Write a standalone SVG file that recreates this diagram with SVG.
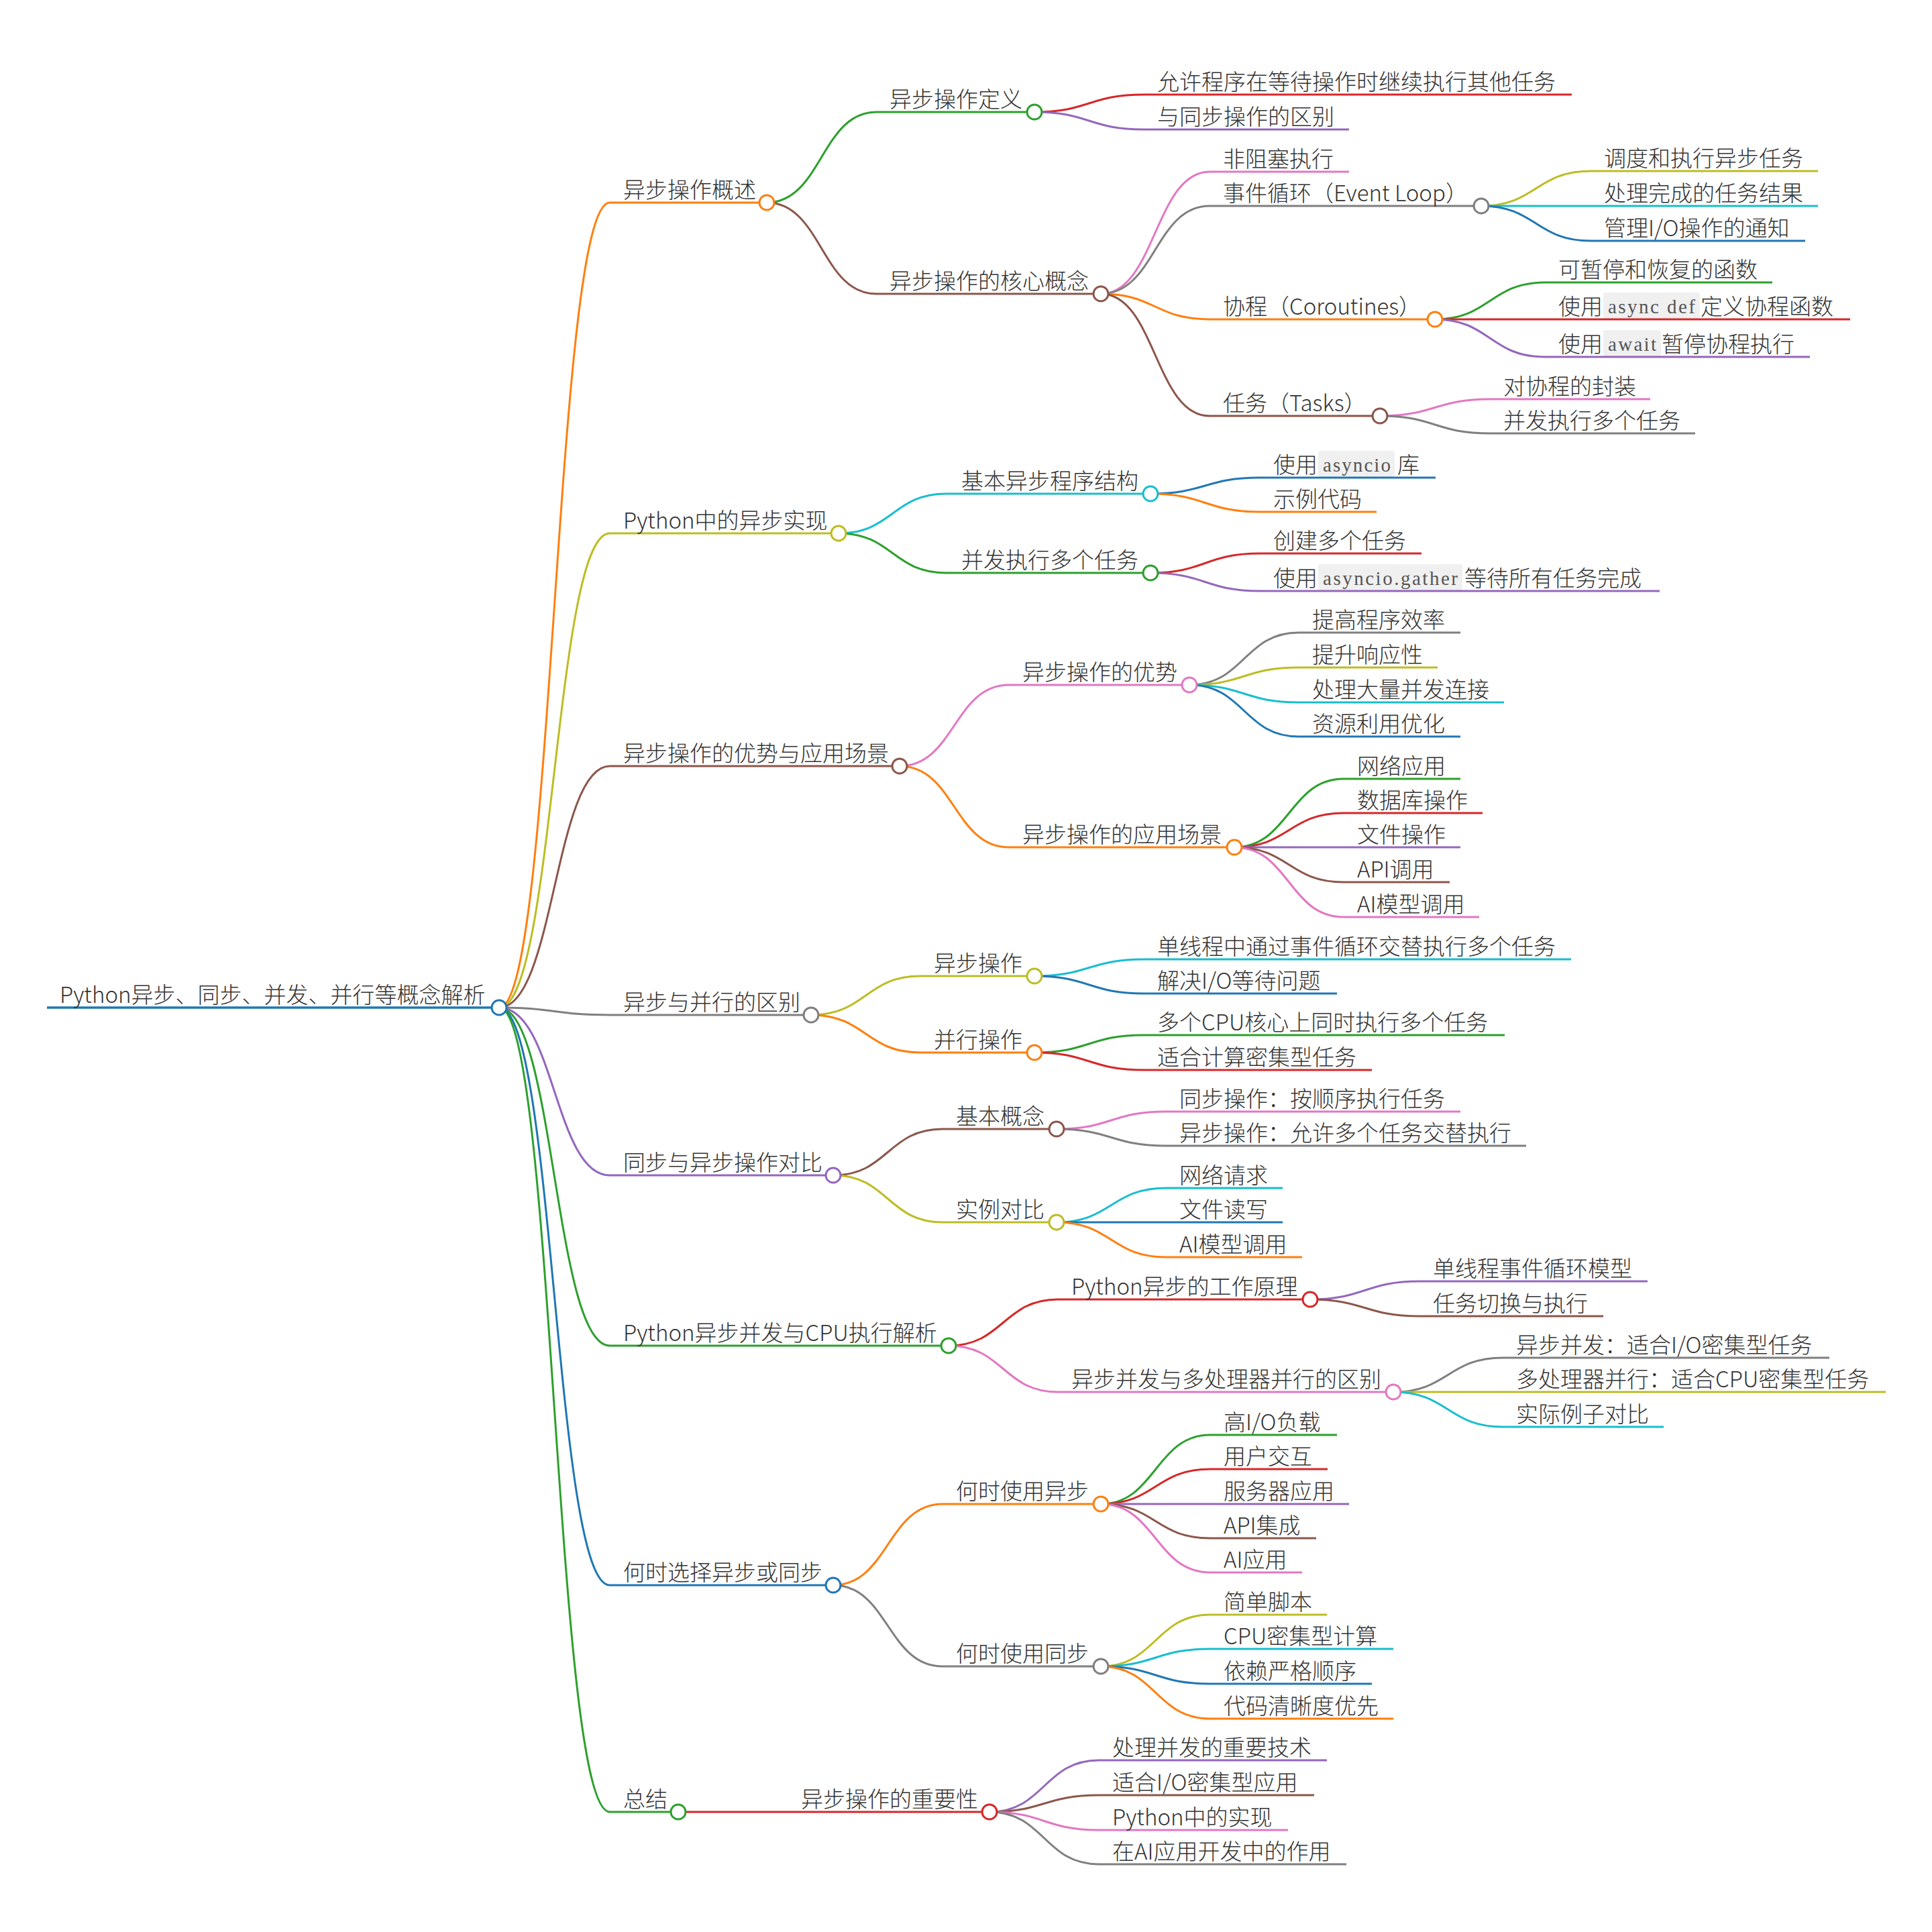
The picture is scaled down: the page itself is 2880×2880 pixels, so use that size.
<svg xmlns="http://www.w3.org/2000/svg" width="2880" height="2880" viewBox="0 0 2880 2880">
<style>
.t{font-family:"Noto Sans CJK SC Light","Noto Sans CJK SC","Noto Sans",sans-serif;font-size:33px;font-weight:300;fill:#333}
.c{font-family:"Liberation Serif","DejaVu Serif",serif;font-size:29px;fill:#555}
.cb{fill:#f0f0f0}
.l{fill:none;stroke-width:3}
.u{fill:none;stroke-width:3}
.ur{fill:none;stroke-width:3.5}
circle{fill:#fff;stroke-width:3}
.bl{stroke:#1f77b4}.or{stroke:#ff7f0e}.gr{stroke:#2ca02c}.rd{stroke:#d62728}.pu{stroke:#9467bd}
.br{stroke:#8c564b}.pk{stroke:#e377c2}.gy{stroke:#7f7f7f}.ol{stroke:#bcbd22}.cy{stroke:#17becf}
</style>
<rect width="2880" height="2880" fill="#fff"/>
<g id="connectors">
<path class="l or" d="M744 1502C826.5 1502 826.5 302 909 302"/>
<path class="l ol" d="M744 1502C826.5 1502 826.5 795 909 795"/>
<path class="l br" d="M744 1502C826.5 1502 826.5 1142 909 1142"/>
<path class="l gy" d="M744 1502C826.5 1502 826.5 1513 909 1513"/>
<path class="l pu" d="M744 1502C826.5 1502 826.5 1752 909 1752"/>
<path class="l gr" d="M744 1502C826.5 1502 826.5 2006 909 2006"/>
<path class="l bl" d="M744 1502C826.5 1502 826.5 2363 909 2363"/>
<path class="l gr" d="M744 1502C826.5 1502 826.5 2701 909 2701"/>

<path class="l gr" d="M1143 302C1224.5 302 1224.5 167 1306 167"/>
<path class="l br" d="M1143 302C1224.5 302 1224.5 438 1306 438"/>
<path class="l rd" d="M1542 167C1623.5 167 1623.5 141 1705 141"/>
<path class="l pu" d="M1542 167C1623.5 167 1623.5 193 1705 193"/>
<path class="l pk" d="M1641 438C1722 438 1722 256 1803 256"/>
<path class="l gy" d="M1641 438C1722 438 1722 307 1803 307"/>
<path class="l or" d="M1641 438C1722 438 1722 476 1803 476"/>
<path class="l br" d="M1641 438C1722 438 1722 620 1803 620"/>
<path class="l ol" d="M2208 307C2289.5 307 2289.5 255 2371 255"/>
<path class="l cy" d="M2208 307C2289.5 307 2289.5 307 2371 307"/>
<path class="l bl" d="M2208 307C2289.5 307 2289.5 359 2371 359"/>
<path class="l gr" d="M2139 476C2221 476 2221 421 2303 421"/>
<path class="l rd" d="M2139 476C2221 476 2221 476 2303 476"/>
<path class="l pu" d="M2139 476C2221 476 2221 532 2303 532"/>
<path class="l pk" d="M2057 620C2139 620 2139 595 2221 595"/>
<path class="l gy" d="M2057 620C2139 620 2139 646 2221 646"/>

<path class="l cy" d="M1250 795C1330.5 795 1330.5 736 1411 736"/>
<path class="l gr" d="M1250 795C1330.5 795 1330.5 854 1411 854"/>
<path class="l bl" d="M1715 736C1796.5 736 1796.5 712 1878 712"/>
<path class="l or" d="M1715 736C1796.5 736 1796.5 763 1878 763"/>
<path class="l rd" d="M1715 854C1796.5 854 1796.5 825 1878 825"/>
<path class="l pu" d="M1715 854C1796.5 854 1796.5 881 1878 881"/>

<path class="l pk" d="M1341 1142C1422.5 1142 1422.5 1021 1504 1021"/>
<path class="l or" d="M1341 1142C1422.5 1142 1422.5 1263 1504 1263"/>
<path class="l gy" d="M1773 1021C1854.5 1021 1854.5 943 1936 943"/>
<path class="l ol" d="M1773 1021C1854.5 1021 1854.5 995 1936 995"/>
<path class="l cy" d="M1773 1021C1854.5 1021 1854.5 1047 1936 1047"/>
<path class="l bl" d="M1773 1021C1854.5 1021 1854.5 1098 1936 1098"/>
<path class="l gr" d="M1840 1263C1921.5 1263 1921.5 1161 2003 1161"/>
<path class="l rd" d="M1840 1263C1921.5 1263 1921.5 1212 2003 1212"/>
<path class="l pu" d="M1840 1263C1921.5 1263 1921.5 1263 2003 1263"/>
<path class="l br" d="M1840 1263C1921.5 1263 1921.5 1315 2003 1315"/>
<path class="l pk" d="M1840 1263C1921.5 1263 1921.5 1367 2003 1367"/>

<path class="l ol" d="M1209 1513C1290.5 1513 1290.5 1455 1372 1455"/>
<path class="l or" d="M1209 1513C1290.5 1513 1290.5 1569 1372 1569"/>
<path class="l cy" d="M1542 1455C1623.5 1455 1623.5 1430 1705 1430"/>
<path class="l bl" d="M1542 1455C1623.5 1455 1623.5 1481 1705 1481"/>
<path class="l gr" d="M1542 1569C1623.5 1569 1623.5 1543 1705 1543"/>
<path class="l rd" d="M1542 1569C1623.5 1569 1623.5 1595 1705 1595"/>

<path class="l br" d="M1242 1752C1323.5 1752 1323.5 1683 1405 1683"/>
<path class="l ol" d="M1242 1752C1323.5 1752 1323.5 1822 1405 1822"/>
<path class="l pk" d="M1575 1683C1656.5 1683 1656.5 1657 1738 1657"/>
<path class="l gy" d="M1575 1683C1656.5 1683 1656.5 1708 1738 1708"/>
<path class="l cy" d="M1575 1822C1656.5 1822 1656.5 1771 1738 1771"/>
<path class="l bl" d="M1575 1822C1656.5 1822 1656.5 1822 1738 1822"/>
<path class="l or" d="M1575 1822C1656.5 1822 1656.5 1874 1738 1874"/>

<path class="l rd" d="M1414 2006C1495.5 2006 1495.5 1937 1577 1937"/>
<path class="l pk" d="M1414 2006C1495.5 2006 1495.5 2075 1577 2075"/>
<path class="l pu" d="M1953 1937C2034.5 1937 2034.5 1910 2116 1910"/>
<path class="l br" d="M1953 1937C2034.5 1937 2034.5 1962 2116 1962"/>
<path class="l gy" d="M2077 2075C2158.5 2075 2158.5 2024 2240 2024"/>
<path class="l ol" d="M2077 2075C2158.5 2075 2158.5 2075 2240 2075"/>
<path class="l cy" d="M2077 2075C2158.5 2075 2158.5 2127 2240 2127"/>

<path class="l or" d="M1242 2363C1323.5 2363 1323.5 2242 1405 2242"/>
<path class="l gy" d="M1242 2363C1323.5 2363 1323.5 2484 1405 2484"/>
<path class="l gr" d="M1641 2242C1722.5 2242 1722.5 2139 1804 2139"/>
<path class="l rd" d="M1641 2242C1722.5 2242 1722.5 2190 1804 2190"/>
<path class="l pu" d="M1641 2242C1722.5 2242 1722.5 2242 1804 2242"/>
<path class="l br" d="M1641 2242C1722.5 2242 1722.5 2293 1804 2293"/>
<path class="l pk" d="M1641 2242C1722.5 2242 1722.5 2344 1804 2344"/>
<path class="l ol" d="M1641 2484C1722.5 2484 1722.5 2407 1804 2407"/>
<path class="l cy" d="M1641 2484C1722.5 2484 1722.5 2458 1804 2458"/>
<path class="l bl" d="M1641 2484C1722.5 2484 1722.5 2510 1804 2510"/>
<path class="l or" d="M1641 2484C1722.5 2484 1722.5 2562 1804 2562"/>

<path class="l rd" d="M1011 2701L1174 2701"/>
<path class="l pu" d="M1475 2701C1556.5 2701 1556.5 2624 1638 2624"/>
<path class="l br" d="M1475 2701C1556.5 2701 1556.5 2676 1638 2676"/>
<path class="l pk" d="M1475 2701C1556.5 2701 1556.5 2728 1638 2728"/>
<path class="l gy" d="M1475 2701C1556.5 2701 1556.5 2779 1638 2779"/>
</g>

<g id="root"><path class="ur bl" d="M70 1502H744"/><text class="t" x="89" y="1495">Python异步、同步、并发、并行等概念解析</text><circle class="bl" cx="744" cy="1502" r="11"/></g>

<g id="n1"><path class="u or" d="M909 302H1143"/><text class="t" x="929" y="295">异步操作概述</text><circle class="or" cx="1143" cy="302" r="11"/></g>
<g id="n1-1"><path class="u gr" d="M1306 167H1542"/><text class="t" x="1326" y="160">异步操作定义</text><circle class="gr" cx="1542" cy="167" r="11"/></g>
<g id="n1-1-1"><path class="u rd" d="M1705 141H2343"/><text class="t" x="1725" y="134">允许程序在等待操作时继续执行其他任务</text></g>
<g id="n1-1-2"><path class="u pu" d="M1705 193H2011"/><text class="t" x="1725" y="186">与同步操作的区别</text></g>
<g id="n1-2"><path class="u br" d="M1306 438H1641"/><text class="t" x="1326" y="431">异步操作的核心概念</text><circle class="br" cx="1641" cy="438" r="11"/></g>
<g id="n1-2-1"><path class="u pk" d="M1803 256H2011"/><text class="t" x="1823" y="249">非阻塞执行</text></g>
<g id="n1-2-2"><path class="u gy" d="M1803 307H2208"/><text class="t" x="1823" y="300">事件循环（Event Loop）</text><circle class="gy" cx="2208" cy="307" r="11"/></g>
<g id="n1-2-2-1"><path class="u ol" d="M2371 255H2710"/><text class="t" x="2391" y="248">调度和执行异步任务</text></g>
<g id="n1-2-2-2"><path class="u cy" d="M2371 307H2710"/><text class="t" x="2391" y="300">处理完成的任务结果</text></g>
<g id="n1-2-2-3"><path class="u bl" d="M2371 359H2691"/><text class="t" x="2391" y="352">管理I/O操作的通知</text></g>
<g id="n1-2-3"><path class="u or" d="M1803 476H2139"/><text class="t" x="1823" y="469">协程（Coroutines）</text><circle class="or" cx="2139" cy="476" r="11"/></g>
<g id="n1-2-3-1"><path class="u gr" d="M2303 421H2642"/><text class="t" x="2323" y="414">可暂停和恢复的函数</text></g>
<g id="n1-2-3-2"><rect class="cb" x="2390" y="436" width="144" height="39" rx="4"/><path class="u rd" d="M2303 476H2758"/><text class="t" x="2323" y="469">使用</text><text class="c" x="2397" y="467" textLength="130" lengthAdjust="spacing">async def</text><text class="t" x="2535" y="469">定义协程函数</text></g>
<g id="n1-2-3-3"><rect class="cb" x="2390" y="492" width="86" height="39" rx="4"/><path class="u pu" d="M2303 532H2698"/><text class="t" x="2323" y="525">使用</text><text class="c" x="2397" y="523" textLength="72" lengthAdjust="spacing">await</text><text class="t" x="2477" y="525">暂停协程执行</text></g>
<g id="n1-2-4"><path class="u br" d="M1803 620H2057"/><text class="t" x="1823" y="613">任务（Tasks）</text><circle class="br" cx="2057" cy="620" r="11"/></g>
<g id="n1-2-4-1"><path class="u pk" d="M2221 595H2460"/><text class="t" x="2241" y="588">对协程的封装</text></g>
<g id="n1-2-4-2"><path class="u gy" d="M2221 646H2527"/><text class="t" x="2241" y="639">并发执行多个任务</text></g>

<g id="n2"><path class="u ol" d="M909 795H1250"/><text class="t" x="929" y="788">Python中的异步实现</text><circle class="ol" cx="1250" cy="795" r="11"/></g>
<g id="n2-1"><path class="u cy" d="M1411 736H1715"/><text class="t" x="1433" y="729">基本异步程序结构</text><circle class="cy" cx="1715" cy="736" r="11"/></g>
<g id="n2-1-1"><rect class="cb" x="1965" y="672" width="114" height="39" rx="4"/><path class="u bl" d="M1878 712H2140"/><text class="t" x="1898" y="705">使用</text><text class="c" x="1972" y="703" textLength="101" lengthAdjust="spacing">asyncio</text><text class="t" x="2083" y="705">库</text></g>
<g id="n2-1-2"><path class="u or" d="M1878 763H2052"/><text class="t" x="1898" y="756">示例代码</text></g>
<g id="n2-2"><path class="u gr" d="M1411 854H1715"/><text class="t" x="1433" y="847">并发执行多个任务</text><circle class="gr" cx="1715" cy="854" r="11"/></g>
<g id="n2-2-1"><path class="u rd" d="M1878 825H2119"/><text class="t" x="1898" y="818">创建多个任务</text></g>
<g id="n2-2-2"><rect class="cb" x="1965" y="841" width="215" height="39" rx="4"/><path class="u pu" d="M1878 881H2474"/><text class="t" x="1898" y="874">使用</text><text class="c" x="1972" y="872" textLength="201" lengthAdjust="spacing">asyncio.gather</text><text class="t" x="2183" y="874">等待所有任务完成</text></g>

<g id="n3"><path class="u br" d="M909 1142H1341"/><text class="t" x="929" y="1135">异步操作的优势与应用场景</text><circle class="br" cx="1341" cy="1142" r="11"/></g>
<g id="n3-1"><path class="u pk" d="M1504 1021H1773"/><text class="t" x="1524" y="1014">异步操作的优势</text><circle class="pk" cx="1773" cy="1021" r="11"/></g>
<g id="n3-1-1"><path class="u gy" d="M1936 943H2177"/><text class="t" x="1956" y="936">提高程序效率</text></g>
<g id="n3-1-2"><path class="u ol" d="M1936 995H2143"/><text class="t" x="1956" y="988">提升响应性</text></g>
<g id="n3-1-3"><path class="u cy" d="M1936 1047H2242"/><text class="t" x="1956" y="1040">处理大量并发连接</text></g>
<g id="n3-1-4"><path class="u bl" d="M1936 1098H2177"/><text class="t" x="1956" y="1091">资源利用优化</text></g>
<g id="n3-2"><path class="u or" d="M1504 1263H1840"/><text class="t" x="1524" y="1256">异步操作的应用场景</text><circle class="or" cx="1840" cy="1263" r="11"/></g>
<g id="n3-2-1"><path class="u gr" d="M2003 1161H2177"/><text class="t" x="2023" y="1154">网络应用</text></g>
<g id="n3-2-2"><path class="u rd" d="M2003 1212H2210"/><text class="t" x="2023" y="1205">数据库操作</text></g>
<g id="n3-2-3"><path class="u pu" d="M2003 1263H2177"/><text class="t" x="2023" y="1256">文件操作</text></g>
<g id="n3-2-4"><path class="u br" d="M2003 1315H2161"/><text class="t" x="2023" y="1308">API调用</text></g>
<g id="n3-2-5"><path class="u pk" d="M2003 1367H2205"/><text class="t" x="2023" y="1360">AI模型调用</text></g>

<g id="n4"><path class="u gy" d="M909 1513H1209"/><text class="t" x="929" y="1506">异步与并行的区别</text><circle class="gy" cx="1209" cy="1513" r="11"/></g>
<g id="n4-1"><path class="u ol" d="M1372 1455H1542"/><text class="t" x="1392" y="1448">异步操作</text><circle class="ol" cx="1542" cy="1455" r="11"/></g>
<g id="n4-1-1"><path class="u cy" d="M1705 1430H2342"/><text class="t" x="1725" y="1423">单线程中通过事件循环交替执行多个任务</text></g>
<g id="n4-1-2"><path class="u bl" d="M1705 1481H1993"/><text class="t" x="1725" y="1474">解决I/O等待问题</text></g>
<g id="n4-2"><path class="u or" d="M1372 1569H1542"/><text class="t" x="1392" y="1562">并行操作</text><circle class="or" cx="1542" cy="1569" r="11"/></g>
<g id="n4-2-1"><path class="u gr" d="M1705 1543H2243"/><text class="t" x="1725" y="1536">多个CPU核心上同时执行多个任务</text></g>
<g id="n4-2-2"><path class="u rd" d="M1705 1595H2045"/><text class="t" x="1725" y="1588">适合计算密集型任务</text></g>

<g id="n5"><path class="u pu" d="M909 1752H1242"/><text class="t" x="929" y="1745">同步与异步操作对比</text><circle class="pu" cx="1242" cy="1752" r="11"/></g>
<g id="n5-1"><path class="u br" d="M1405 1683H1575"/><text class="t" x="1425" y="1676">基本概念</text><circle class="br" cx="1575" cy="1683" r="11"/></g>
<g id="n5-1-1"><path class="u pk" d="M1738 1657H2177"/><text class="t" x="1758" y="1650">同步操作：按顺序执行任务</text></g>
<g id="n5-1-2"><path class="u gy" d="M1738 1708H2275"/><text class="t" x="1758" y="1701">异步操作：允许多个任务交替执行</text></g>
<g id="n5-2"><path class="u ol" d="M1405 1822H1575"/><text class="t" x="1425" y="1815">实例对比</text><circle class="ol" cx="1575" cy="1822" r="11"/></g>
<g id="n5-2-1"><path class="u cy" d="M1738 1771H1912"/><text class="t" x="1758" y="1764">网络请求</text></g>
<g id="n5-2-2"><path class="u bl" d="M1738 1822H1912"/><text class="t" x="1758" y="1815">文件读写</text></g>
<g id="n5-2-3"><path class="u or" d="M1738 1874H1941"/><text class="t" x="1758" y="1867">AI模型调用</text></g>

<g id="n6"><path class="u gr" d="M909 2006H1414"/><text class="t" x="929" y="1999">Python异步并发与CPU执行解析</text><circle class="gr" cx="1414" cy="2006" r="11"/></g>
<g id="n6-1"><path class="u rd" d="M1577 1937H1953"/><text class="t" x="1597" y="1930">Python异步的工作原理</text><circle class="rd" cx="1953" cy="1937" r="11"/></g>
<g id="n6-1-1"><path class="u pu" d="M2116 1910H2456"/><text class="t" x="2136" y="1903">单线程事件循环模型</text></g>
<g id="n6-1-2"><path class="u br" d="M2116 1962H2390"/><text class="t" x="2136" y="1955">任务切换与执行</text></g>
<g id="n6-2"><path class="u pk" d="M1577 2075H2077"/><text class="t" x="1597" y="2068">异步并发与多处理器并行的区别</text><circle class="pk" cx="2077" cy="2075" r="11"/></g>
<g id="n6-2-1"><path class="u gy" d="M2240 2024H2727"/><text class="t" x="2260" y="2017">异步并发：适合I/O密集型任务</text></g>
<g id="n6-2-2"><path class="u ol" d="M2240 2075H2811"/><text class="t" x="2260" y="2068">多处理器并行：适合CPU密集型任务</text></g>
<g id="n6-2-3"><path class="u cy" d="M2240 2127H2480"/><text class="t" x="2260" y="2120">实际例子对比</text></g>

<g id="n7"><path class="u bl" d="M909 2363H1242"/><text class="t" x="929" y="2356">何时选择异步或同步</text><circle class="bl" cx="1242" cy="2363" r="11"/></g>
<g id="n7-1"><path class="u or" d="M1405 2242H1641"/><text class="t" x="1425" y="2235">何时使用异步</text><circle class="or" cx="1641" cy="2242" r="11"/></g>
<g id="n7-1-1"><path class="u gr" d="M1804 2139H1993"/><text class="t" x="1824" y="2132">高I/O负载</text></g>
<g id="n7-1-2"><path class="u rd" d="M1804 2190H1979"/><text class="t" x="1824" y="2183">用户交互</text></g>
<g id="n7-1-3"><path class="u pu" d="M1804 2242H2011"/><text class="t" x="1824" y="2235">服务器应用</text></g>
<g id="n7-1-4"><path class="u br" d="M1804 2293H1962"/><text class="t" x="1824" y="2286">API集成</text></g>
<g id="n7-1-5"><path class="u pk" d="M1804 2344H1941"/><text class="t" x="1824" y="2337">AI应用</text></g>
<g id="n7-2"><path class="u gy" d="M1405 2484H1641"/><text class="t" x="1425" y="2477">何时使用同步</text><circle class="gy" cx="1641" cy="2484" r="11"/></g>
<g id="n7-2-1"><path class="u ol" d="M1804 2407H1978"/><text class="t" x="1824" y="2400">简单脚本</text></g>
<g id="n7-2-2"><path class="u cy" d="M1804 2458H2077"/><text class="t" x="1824" y="2451">CPU密集型计算</text></g>
<g id="n7-2-3"><path class="u bl" d="M1804 2510H2045"/><text class="t" x="1824" y="2503">依赖严格顺序</text></g>
<g id="n7-2-4"><path class="u or" d="M1804 2562H2077"/><text class="t" x="1824" y="2555">代码清晰度优先</text></g>

<g id="n8"><path class="u gr" d="M909 2701H1011"/><text class="t" x="929" y="2694">总结</text><circle class="gr" cx="1011" cy="2701" r="11"/></g>
<g id="n8-1"><path class="u rd" d="M1174 2701H1475"/><text class="t" x="1194" y="2694">异步操作的重要性</text><circle class="rd" cx="1475" cy="2701" r="11"/></g>
<g id="n8-1-1"><path class="u pu" d="M1638 2624H1978"/><text class="t" x="1658" y="2617">处理并发的重要技术</text></g>
<g id="n8-1-2"><path class="u br" d="M1638 2676H1959"/><text class="t" x="1658" y="2669">适合I/O密集型应用</text></g>
<g id="n8-1-3"><path class="u pk" d="M1638 2728H1920"/><text class="t" x="1658" y="2721">Python中的实现</text></g>
<g id="n8-1-4"><path class="u gy" d="M1638 2779H2007"/><text class="t" x="1658" y="2772">在AI应用开发中的作用</text></g>
</svg>
